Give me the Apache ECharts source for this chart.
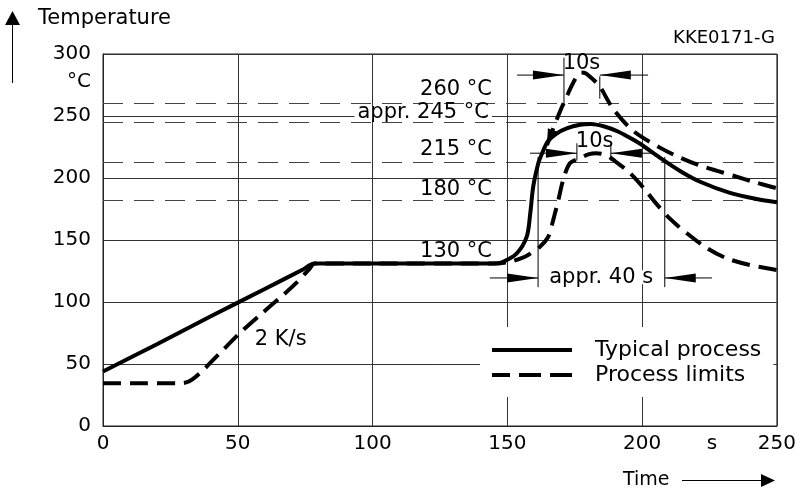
<!DOCTYPE html>
<html>
<head>
<meta charset="utf-8">
<script src="https://cdn.jsdelivr.net/npm/echarts@6/dist/echarts.min.js"></script>
<style>
html,body{margin:0;padding:0;background:#fff;}
#chart{width:799px;height:489px;}
</style>
</head>
<body>
<div id="chart"></div>
<script>
var FONT = "'DejaVu Sans', sans-serif";

// axes
var xRange = [0, 250, 50];
var yRange = [0, 300, 50];

// typical process (solid)
var typical = [[0,44],[20,66],[40,88.5],[60,110.5],[74,126],[78.5,131],[85,131],[110,131],[135,131],[145,131],
  [148,132],[153.4,139],[157.2,152.7],[158.5,171.5],[159.6,193],[161.5,212],[162.7,219],
  [165,229.5],[168,235.5],[172,240],[177,243],[181,243.5],[186,241.5],[191,237.5],[195,233],[199,228],
  [206.8,216],[214.2,205.5],[221.5,197],[232.6,188],[242.5,183],[250,180.4]];

// process limits (dashed)
var limitLower = [[0,34.5],[15,34.5],[29,34.5],[32,36],[35.9,42.5],[43,58],[50.7,74.8],[58,89],[66.8,105.6],
  [72,116],[76.7,127],[78.5,131],[100,131],[125,131],[145,131],[150,132],[156.5,136.5],[162.1,144.6],
  [165.2,152.7],[167,166],[168.9,182],[170.7,198.4],[173.2,211.9],[177,216],[180,219],
  [183,220],[186.5,218.5],[190,213.5],[195.5,204],[201.7,189],[204.2,182],[210.4,167],[216.6,155.4],
  [224,143.5],[231.4,135.2],[240,129.8],[250,125.8]];
var limitUpper = [[164.7,226.6],[166.5,237],[168.3,247],[170,256],[172,265.6],[174,275],[176,282.5],
  [177.5,285],[179,284.5],[181,281],[183,277],[184.4,273.6],[189.3,255.6],[196.7,238],[206.6,224.5],
  [214,216.5],[221.5,210],[233.9,201.8],[242,196.5],[250,191.7]];

// dashed temperature levels
var refLevels = [260, 245, 213, 182];
var levelTexts = ['260 °C', 'appr. 245 °C', '215 °C', '180 °C', '130 °C'];
var levelTextY = [271, 252.4, 222.6, 190.3, 140.3];
var levelTextX = 144.3;

// dimension arrows: [y, lineStart, leftTip, rightTip, lineEnd]
var dims = [[283, 153.6, 171, 184.3, 202.2], [220, 158.4, 175.8, 188.4, 204], [119.4, 143.5, 161.4, 208.4, 225.9]];
var dimTexts = ['10s', '10s', 'appr. 40 s'];
var dimTextPos = [[177.5, 292.3], [182.4, 229.4], [184.8, 120]];
// extension lines: [x, yTop, yBottom]
var extLines = [[171, 297, 258], [184.3, 282, 264], [175.8, 228, 214], [188.4, 228, 214], [161.4, 217, 112], [208.4, 217, 112]];

var chart = echarts.init(document.getElementById('chart'));

var dashStyle = [18, 9];

var option = {
  animation: false,
  backgroundColor: '#fff',
  grid: { left: 103, right: 22, top: 54, bottom: 63, show: true, borderColor: '#222', borderWidth: 1, backgroundColor: 'transparent' },
  xAxis: {
    type: 'value', min: xRange[0], max: xRange[1], interval: xRange[2],
    axisLine: { lineStyle: { color: '#222', width: 1 } },
    axisTick: { show: false },
    axisLabel: { fontSize: 20, color: '#000', fontFamily: FONT, margin: 8 },
    splitLine: { show: true, lineStyle: { color: '#333', width: 1 } }
  },
  yAxis: {
    type: 'value', min: yRange[0], max: yRange[1], interval: yRange[2],
    axisLine: { show: true, lineStyle: { color: '#222', width: 1 } },
    axisTick: { show: false },
    axisLabel: { fontSize: 20, color: '#000', fontFamily: FONT, margin: 12 },
    splitLine: { show: true, lineStyle: { color: '#333', width: 1 } }
  },
  legend: {
    data: [
      { name: 'Typical process', icon: 'rect' },
      { name: 'Process limits', icon: 'path://M0,0h18v4h-18zM27,0h22v4h-22zM58,0h22v4h-22z' }
    ],
    orient: 'vertical', left: 480, top: 327,
    itemWidth: 80, itemHeight: 4, itemGap: 3,
    padding: [12, 12, 11, 12],
    backgroundColor: '#fff',
    selectedMode: false,
    textStyle: { fontSize: 22, fontFamily: FONT, color: '#000', lineHeight: 20, padding: [0, 0, 0, 18] }
  },
  series: [
    {
      name: 'Typical process', type: 'line', data: typical, smooth: 0.3, symbol: 'none', z: 5,
      itemStyle: { color: '#000' },
      lineStyle: { color: '#000', width: 4 },
      markLine: {
        silent: true, symbol: 'none', label: { show: false },
        lineStyle: { color: '#444', width: 1, type: [20, 11] },
        data: refLevels.map(function (v) { return { yAxis: v }; })
      }
    },
    {
      name: 'Process limits', type: 'line', data: limitUpper, smooth: 0.3, symbol: 'none', z: 5,
      itemStyle: { color: '#000' },
      lineStyle: { color: '#000', width: 4, type: dashStyle }
    },
    {
      name: 'Process limits', type: 'line', data: limitLower, smooth: 0.3, symbol: 'none', z: 5,
      itemStyle: { color: '#000' },
      lineStyle: { color: '#000', width: 4, type: dashStyle }
    }
  ]
};
chart.setOption(option);

function px(x, y) { return chart.convertToPixel({ gridIndex: 0 }, [x, y]); }

var g = [];
function seg(a, b, w) {
  g.push({ type: 'line', z: 100, shape: { x1: a[0], y1: a[1], x2: b[0], y2: b[1] }, style: { stroke: '#000', lineWidth: w || 1 } });
}
function head(tip, from, len, half) {
  var dx = tip[0] - from[0], dy = tip[1] - from[1], d = Math.sqrt(dx * dx + dy * dy);
  dx /= d; dy /= d;
  var bx = tip[0] - dx * len, by = tip[1] - dy * len;
  g.push({ type: 'polygon', z: 100, shape: { points: [tip, [bx - dy * half, by + dx * half], [bx + dy * half, by - dx * half]] }, style: { fill: '#000' } });
}
function label(t, p, size, align, bg) {
  var st = { text: t, font: size + 'px ' + FONT, fill: '#000', align: align, verticalAlign: 'middle', textAlign: align, textVerticalAlign: 'middle' };
  if (bg) { st.backgroundColor = '#fff'; st.padding = [0, 3]; st.lineHeight = 14; }
  g.push({ type: 'text', z: 99, x: p[0], y: p[1], style: st });
}

// level labels
levelTexts.forEach(function (t, i) {
  label(t, px(levelTextX, levelTextY[i]), 21, 'right', i === 1);
});

// dimension arrows
dims.forEach(function (d) {
  var a = px(d[1], d[0]), tl = px(d[2], d[0]), tr = px(d[3], d[0]), b = px(d[4], d[0]);
  seg(a, tl); head(tl, a, 31, 4.5);
  seg(b, tr); head(tr, b, 31, 4.5);
});
extLines.forEach(function (e) { seg(px(e[0], e[1]), px(e[0], e[2])); });
dimTexts.forEach(function (t, i) {
  label(t, px(dimTextPos[i][0], dimTextPos[i][1]), 21, 'center', i === 2);
});

// arrowhead at start of upper limit curve
head(px(limitUpper[0][0], limitUpper[0][1]), px(167, 240), 16, 5);

// 2 K/s
label('2 K/s', px(56.3, 69.4), 21, 'left', false);

// axis decorations
var sPos = px(225.9, 0);
label('s', [sPos[0], sPos[1] + 18], 20, 'center', false);
label('°C', [91, 82], 20, 'right', false);
label('Temperature', [38, 19], 21, 'left', false);
label('Time', [623, 480], 19, 'left', false);
label('KKE0171-G', [775, 38], 18, 'right', false);

// axis arrows
seg([12.5, 83], [12.5, 22]);
g.push({ type: 'polygon', z: 100, shape: { points: [[12.5, 11], [5, 25], [20, 25]] }, style: { fill: '#000' } });
seg([682, 480.5], [763, 480.5]);
g.push({ type: 'polygon', z: 100, shape: { points: [[775, 480.5], [761, 474], [761, 487]] }, style: { fill: '#000' } });

chart.setOption({ graphic: g });
</script>
</body>
</html>
